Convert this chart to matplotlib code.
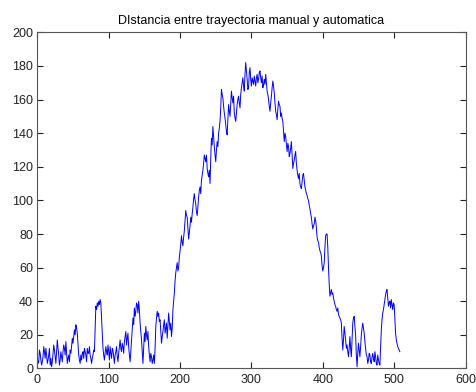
import numpy as np
import matplotlib
matplotlib.use("Agg")
import matplotlib.pyplot as plt

# sample index (step 1) and distance values
x_start = 0
distance = [
    6, 3, 4, 11, 9, 5, 2, 4, 7, 13, 10, 6, 12, 8, 3, 5, 8, 12, 2, 6,
    1, 4, 9, 14, 11, 7, 3, 10, 17, 12, 8, 2, 5, 10, 7, 4, 10, 14, 12, 8,
    16, 9, 3, 6, 8, 4, 11, 9, 13, 18, 15, 19, 23, 20, 26, 24, 21, 14, 8, 5,
    3, 8, 5, 9, 10, 6, 12, 10, 8, 4, 12, 9, 9, 13, 8, 6, 3, 6, 8, 11,
    10, 24, 37, 35, 39, 37, 40, 38, 41, 39, 30, 20, 12, 8, 5, 9, 13, 10, 8, 14,
    10, 5, 13, 9, 6, 12, 11, 7, 3, 8, 10, 13, 7, 4, 9, 13, 17, 12, 10, 15,
    13, 9, 16, 19, 22, 14, 18, 21, 13, 8, 4, 10, 17, 23, 30, 26, 36, 31, 34, 39,
    38, 33, 40, 35, 27, 22, 17, 10, 3, 12, 21, 16, 25, 20, 17, 22, 13, 8, 4, 9,
    7, 3, 5, 8, 3, 12, 25, 30, 34, 31, 33, 28, 29, 22, 15, 19, 22, 26, 29, 21,
    24, 27, 18, 25, 33, 28, 23, 27, 19, 24, 35, 40, 45, 52, 57, 60, 63, 58, 60, 66,
    70, 74, 79, 75, 73, 78, 82, 88, 94, 91, 90, 83, 77, 81, 85, 90, 87, 92, 96, 101,
    104, 100, 98, 93, 91, 96, 102, 106, 108, 104, 112, 115, 118, 122, 127, 125, 123, 127, 119, 116,
    114, 118, 110, 125, 137, 133, 144, 138, 132, 127, 123, 130, 135, 132, 140, 143, 147, 155, 166, 163,
    161, 156, 152, 149, 145, 141, 139, 148, 157, 153, 150, 158, 165, 161, 158, 162, 152, 149, 147, 152,
    157, 160, 162, 158, 155, 163, 167, 170, 173, 168, 165, 175, 182, 177, 172, 166, 167, 176, 179, 172,
    168, 173, 171, 169, 174, 171, 168, 173, 175, 170, 172, 176, 177, 173, 170, 174, 167, 169, 172, 169,
    175, 170, 165, 163, 160, 156, 153, 158, 162, 167, 171, 168, 164, 158, 153, 151, 148, 154, 159, 157,
    156, 150, 152, 149, 147, 141, 135, 140, 138, 133, 129, 134, 132, 126, 128, 131, 135, 127, 119, 122,
    124, 127, 129, 122, 118, 115, 113, 116, 110, 108, 107, 111, 115, 116, 112, 108, 106, 104, 103, 101,
    100, 97, 95, 92, 90, 86, 83, 85, 86, 90, 88, 84, 78, 76, 75, 72, 70, 69, 67, 61,
    58, 60, 63, 72, 79, 80, 80, 72, 60, 50, 43, 45, 47, 44, 45, 42, 40, 38, 37, 35,
    34, 36, 32, 31, 30, 29, 27, 18, 11, 17, 25, 21, 17, 12, 14, 10, 7, 12, 19, 12,
    7, 17, 27, 30, 31, 25, 20, 8, 1, 9, 15, 11, 7, 13, 20, 24, 27, 24, 21, 16,
    12, 8, 7, 3, 5, 9, 8, 4, 3, 7, 9, 6, 4, 10, 7, 3, 2, 8, 5, 3,
    2, 12, 23, 29, 33, 35, 38, 41, 44, 46, 47, 42, 37, 39, 40, 36, 41, 38, 35, 39,
    38, 30, 21, 17, 15, 13, 12, 11, 10,
]
x_values = x_start + np.arange(len(distance))

title = "DIstancia entre trayectoria manual y automatica"
x_ticks = [0, 100, 200, 300, 400, 500, 600]
y_ticks = [0, 20, 40, 60, 80, 100, 120, 140, 160, 180, 200]

plt.rcParams['font.family'] = ['Liberation Sans', 'DejaVu Sans']

fig = plt.figure(figsize=(4.76, 3.92), dpi=100)
ax = fig.add_axes([0.0784, 0.060, 0.8996, 0.8576])
ax.plot(x_values, distance, color=(0, 0, 1), linewidth=0.7)

ax.set_xlim(0, 600)
ax.set_ylim(0, 200)
ax.set_xticks(x_ticks)
ax.set_yticks(y_ticks)
ax.tick_params(direction='in', length=4, width=0.8, top=True, right=True,
               labelsize=9, colors='#222222', pad=3)
ax.tick_params(axis='x', pad=4)
for s in ax.spines.values():
    s.set_color('#555555')
    s.set_linewidth(0.8)
ax.set_title(title, fontsize=9, pad=6)

fig.savefig("out.png", dpi=100)
